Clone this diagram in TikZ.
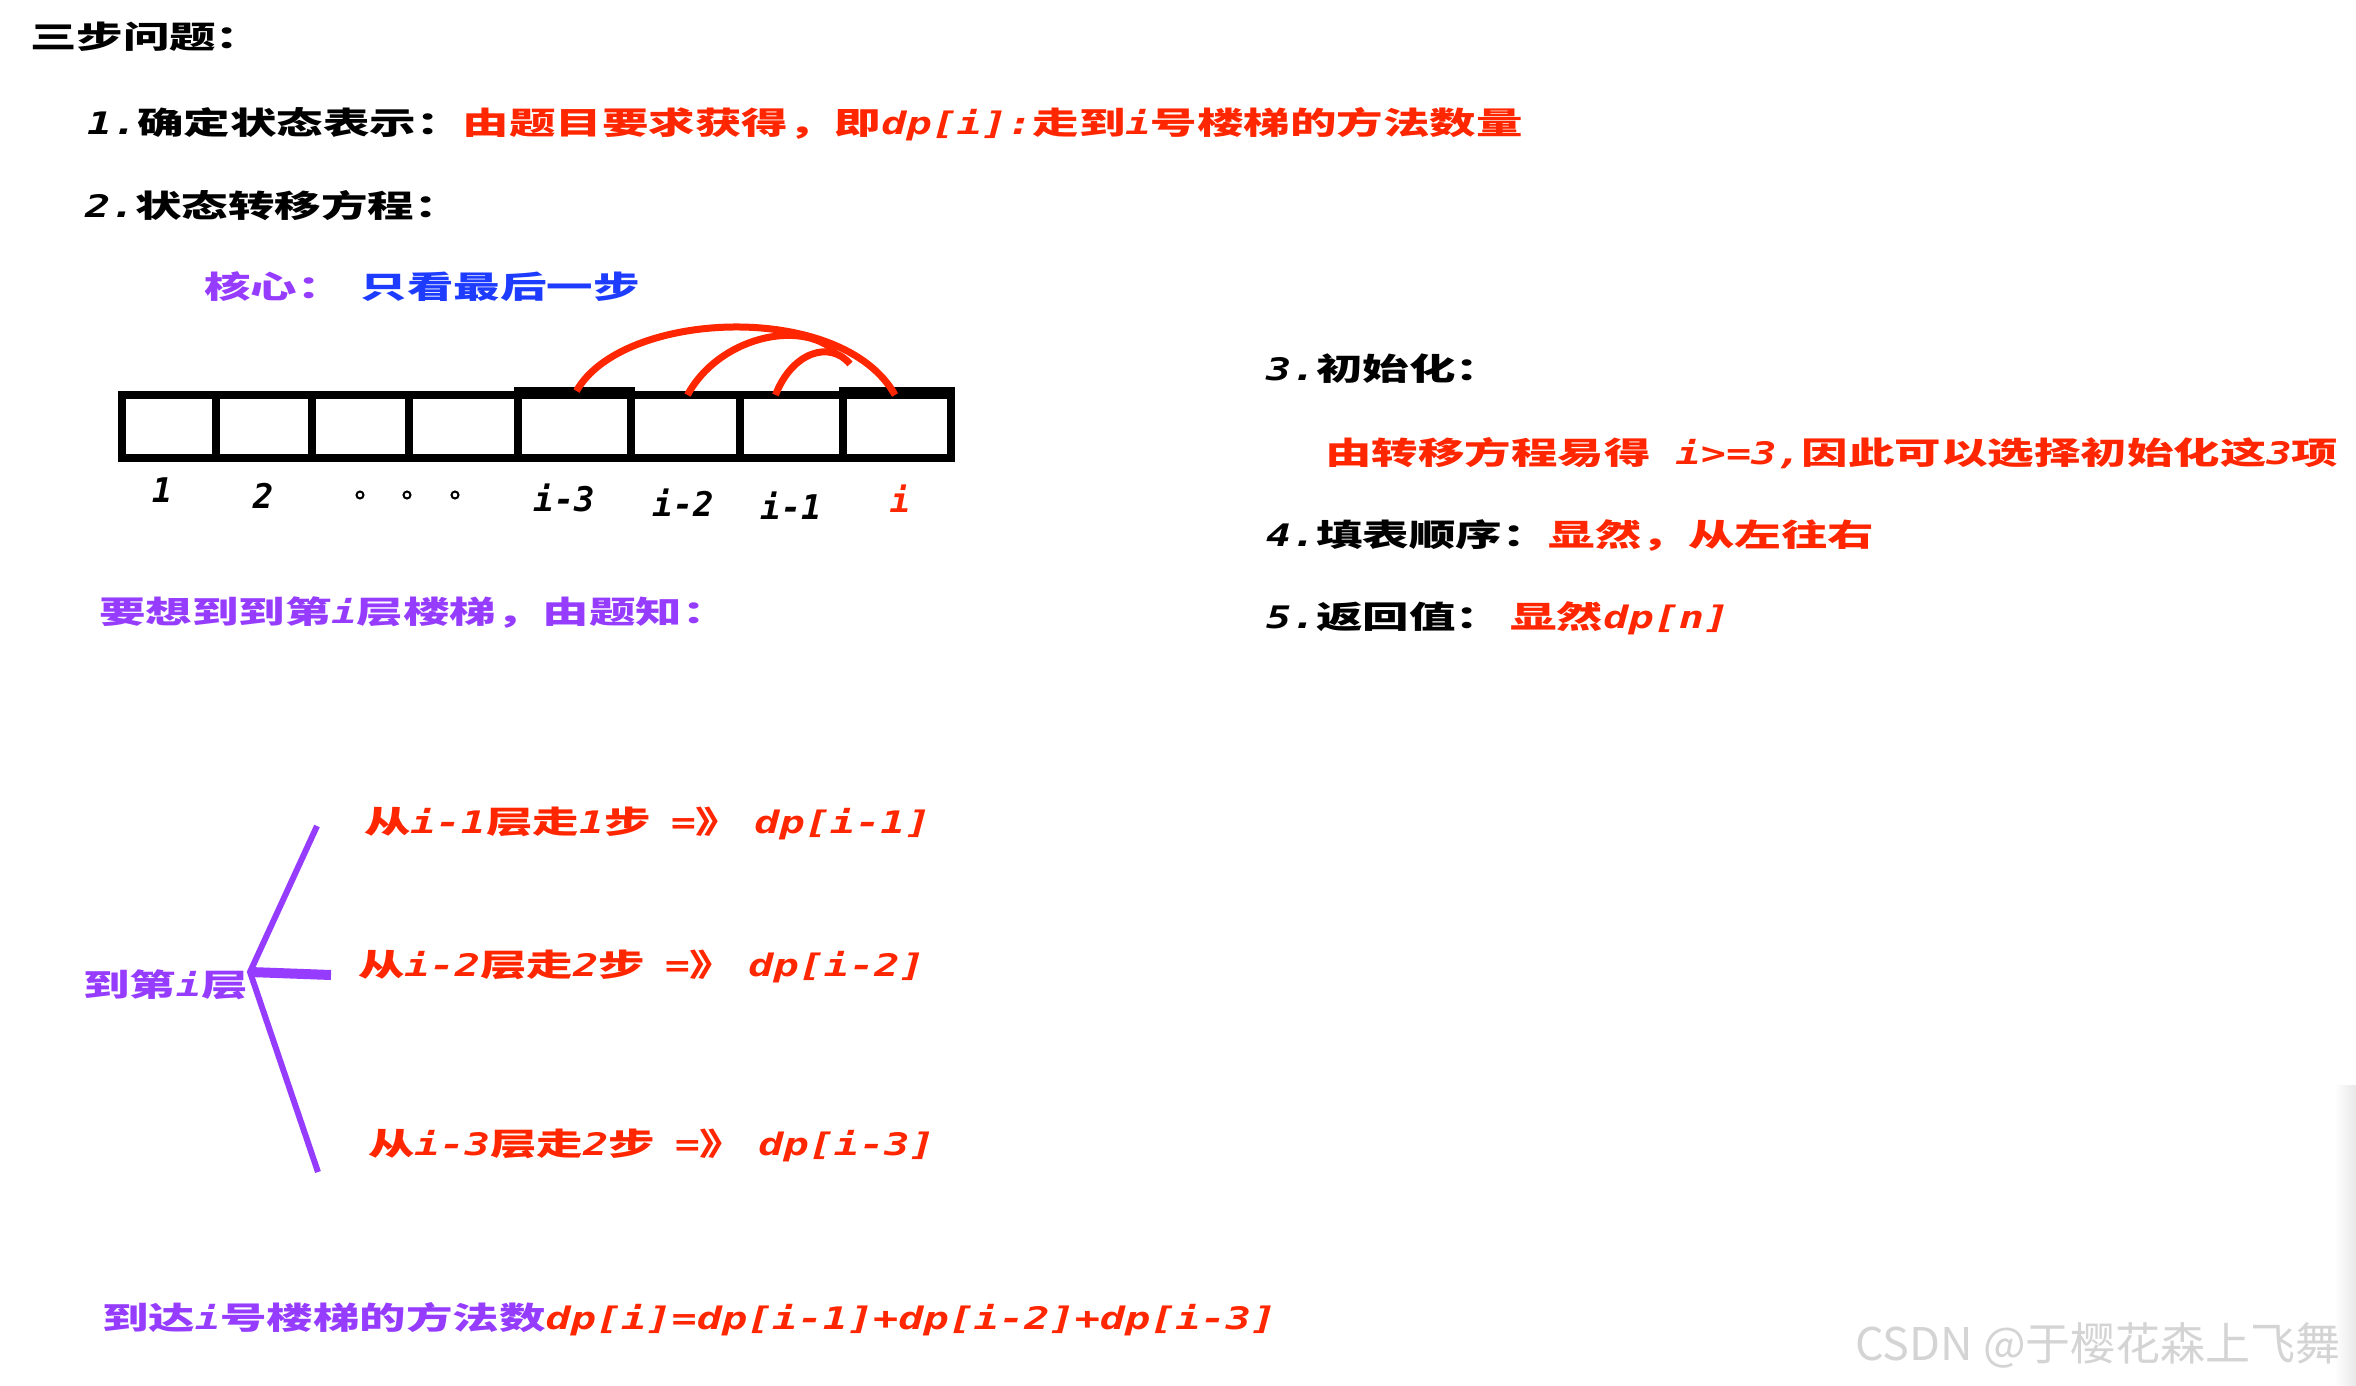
\documentclass[tikz,border=0pt]{standalone}
\usepackage{fontspec}
\newfontfamily\cjk{Noto Sans CJK SC}[FakeStretch=1.5]
\newfontfamily\mono{DejaVu Sans Mono}[FakeStretch=1.35]
\newfontfamily\monolab{DejaVu Sans Mono}
\newfontfamily\wmfont{Noto Sans CJK SC}
\newcommand\lt[1]{{\mono\bfseries\itshape #1}}
\definecolor{myred}{RGB}{255,38,0}
\definecolor{mypurple}{RGB}{150,60,255}
\definecolor{myblue}{RGB}{30,60,255}
\definecolor{wmgray}{RGB}{212,212,212}
\begin{document}
\begin{tikzpicture}[x=1pt,y=-1pt,
  txt/.style={inner sep=0pt, outer sep=0pt, anchor=west, text height=25pt, text depth=3pt, font=\fontsize{31}{36}\selectfont\cjk\bfseries},
  lab/.style={inner sep=0pt, font=\fontsize{34}{40}\selectfont\monolab\bfseries\itshape},
  cell/.style={draw=black, line width=8pt, inner sep=0pt, outer sep=0pt, minimum height=63pt},
  arcline/.style={draw=myred, line width=7pt},
  bracel/.style={draw=mypurple, line width=6pt},
  dotc/.style={circle, draw=black, line width=2pt, minimum size=7pt, inner sep=0pt}]
\useasboundingbox (0,0) rectangle (2356,1386);
\fill[white] (0,0) rectangle (2356,1386);
\shade[left color=white, right color=black!9] (2334,1085) rectangle (2356,1386);

% headings
\node[txt] (title) at (30,38) {三步问题：};
\node[txt] (s1) at (87,124) {\lt{1.}确定状态表示：\textcolor{myred}{由题目要求获得，即\lt{dp[i]:}走到\lt{i}号楼梯的方法数量}};
\node[txt] (s2) at (85,206) {\lt{2.}状态转移方程：};
\node[txt,text=mypurple] (core) at (204,287) {核心：\hspace{17pt}\textcolor{myblue}{只看最后一步}};

% stair cells
\node[cell, minimum width=94pt]  (c1) at (169,426.5) {};
\node[cell, minimum width=96pt]  (c2) at (264,426.5) {};
\node[cell, minimum width=97pt]  (c3) at (360.5,426.5) {};
\node[cell, minimum width=109pt] (c4) at (463.5,426.5) {};
\node[cell, minimum width=113pt] (c5) at (574.5,426.5) {};
\node[cell, minimum width=109pt] (c6) at (685.5,426.5) {};
\node[cell, minimum width=103pt] (c7) at (791.5,426.5) {};
\node[cell, minimum width=108pt] (c8) at (897,426.5) {};
\fill[black] ([xshift=-4pt,yshift=8pt]c5.north west) rectangle ([xshift=4pt]c5.north east);
\fill[black] ([xshift=-4pt,yshift=8pt]c8.north west) rectangle ([xshift=4pt]c8.north east);

% arcs
\coordinate (m2) at (836,352);
\coordinate (m1) at (850,364);
\draw[arcline] ([xshift=2pt,yshift=4pt]c5.north) .. controls (622,310) and (842,300) .. ([xshift=-2pt]c8.north);
\draw[arcline] ([xshift=2pt]c6.north) .. controls (718,338) and (800,318) .. (m2);
\draw[arcline] ([xshift=-16pt]c7.north) .. controls (792,352) and (830,340) .. (m1);

% labels
\node[lab] (l1) at (162,490) {1};
\node[lab] (l2) at (263,496) {2};
\node[dotc] (d1) at (360,495) {};
\node[dotc] (d2) at (407,495) {};
\node[dotc] (d3) at (455,495) {};
\node[lab] (l5) at (564,498) {i-3};
\node[lab] (l6) at (683,503) {i-2};
\node[lab] (l7) at (791,506) {i-1};
\node[lab,text=myred] (l8) at (900,499) {i};

\node[txt,text=mypurple] (want) at (99,612) {要想到到第\lt{i}层楼梯，由题知：};

% right column
\node[txt] (s3) at (1266,369) {\lt{3.}初始化：};
\node[txt,text=myred] (s3r) at (1325,453) {由转移方程易得\lt{~i>=3,}因此可以选择初始化这\lt{3}项};
\node[txt] (s4) at (1266,535) {\lt{4.}填表顺序：\textcolor{myred}{显然，从左往右}};
\node[txt] (s5) at (1266,617) {\lt{5.}返回值：\hspace{8pt}\textcolor{myred}{显然\lt{dp[n]}}};

% brace
\node[txt,text=mypurple] (floor) at (83,985) {到第\lt{i}层};
\coordinate (bt) at (317,826);
\coordinate (bv) at (250,972);
\coordinate (bb) at (318,1172);
\coordinate (bh) at (331,975);
\draw[bracel, line join=miter] (bt) -- (bv) -- (bb);
\draw[draw=mypurple, line width=10pt] (bv) -- (bh);

\node[txt,text=myred] (b1) at (364,822) {从\lt{i-1}层走\lt{1}步\hspace{20pt}\lt{=}》\hspace{12pt}\lt{dp[i-1]}};
\node[txt,text=myred] (b2) at (358,965) {从\lt{i-2}层走\lt{2}步\hspace{20pt}\lt{=}》\hspace{12pt}\lt{dp[i-2]}};
\node[txt,text=myred] (b3) at (368,1144) {从\lt{i-3}层走\lt{2}步\hspace{20pt}\lt{=}》\hspace{12pt}\lt{dp[i-3]}};

% bottom
\node[txt,text=mypurple] (sum) at (102,1318) {到达\lt{i}号楼梯的方法数\textcolor{myred}{\lt{dp[i]=dp[i-1]+dp[i-2]+dp[i-3]}}};

% watermark
\node[inner sep=0pt, anchor=west, text=wmgray, font=\fontsize{45}{50}\selectfont\wmfont] (wm) at (1855,1345) {CSDN @于樱花森上飞舞};
\end{tikzpicture}
\end{document}
